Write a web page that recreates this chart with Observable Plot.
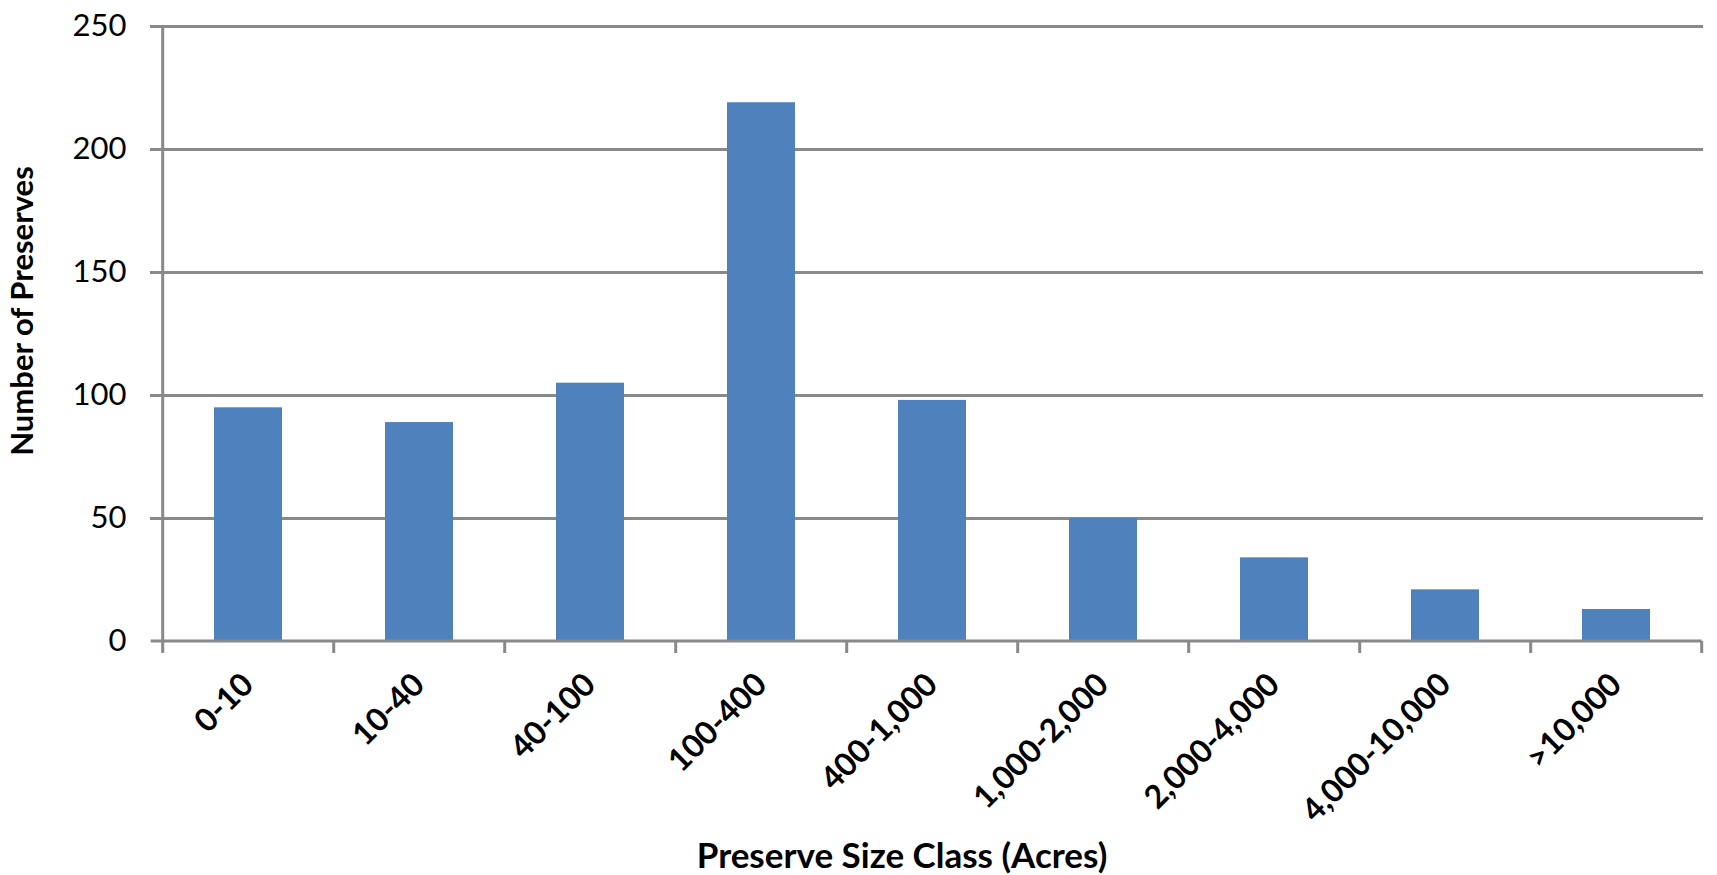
<!DOCTYPE html>
<html><head><meta charset="utf-8">
<script src="https://cdn.jsdelivr.net/npm/d3@7"></script>
<script src="https://cdn.jsdelivr.net/npm/@observablehq/plot@0.6"></script>
<style>body{margin:0;background:#fff}</style>
</head><body><div id="chart"></div>
<script>
const categories = ["0-10","10-40","40-100","100-400","400-1,000","1,000-2,000","2,000-4,000","4,000-10,000",">10,000"];
const counts = [95, 89, 105, 219, 98, 50, 34, 21, 13];
const yTicks = [0, 50, 100, 150, 200, 250];
const xTitle = "Preserve Size Class (Acres)";
const yTitle = "Number of Preserves";

const data = categories.map((c, i) => ({category: c, count: counts[i]}));
const grey = "#898989";
const barColor = "#4F81BD";

function axisLines(index, scales) {
  const x = scales.x, y = scales.y;
  const step = x(categories[1]) - x(categories[0]);
  const bounds = categories.map(c => x(c) - 0.3 * step);
  bounds.push(x(categories[categories.length - 1]) + 0.7 * step);
  const y0 = y(0), yTop = y(250);
  const g = d3.create("svg:g").attr("stroke", grey).attr("stroke-width", 3);
  g.append("line").attr("x1", bounds[0]).attr("x2", bounds[0]).attr("y1", yTop).attr("y2", y0 + 12);
  bounds.slice(1).forEach(b => {
    g.append("line").attr("x1", b).attr("x2", b).attr("y1", y0).attr("y2", y0 + 12);
  });
  g.append("line").attr("x1", bounds[0] - 12).attr("x2", bounds[bounds.length - 1]).attr("y1", y0).attr("y2", y0);
  return g.node();
}

const chart = Plot.plot({
  width: 1717,
  height: 875,
  marginLeft: 162,
  marginRight: 14,
  marginTop: 26,
  marginBottom: 234,
  x: {domain: categories, paddingInner: 0.6, paddingOuter: 0.3, axis: null},
  y: {domain: [0, 250], axis: null},
  style: {fontFamily: "Lato, 'Open Sans', sans-serif", background: "#fff", overflow: "visible"},
  marks: [
    Plot.ruleY(yTicks.filter(d => d > 0), {stroke: grey, strokeWidth: 3, insetLeft: -12}),
    Plot.barY(data, {x: "category", y: "count", fill: barColor}),
    axisLines,
    Plot.text(yTicks, {y: d => d, text: d => String(d), frameAnchor: "left", textAnchor: "end", dx: -36, fontSize: 31, fill: "#000"}),
    Plot.text(categories, {x: d => d, text: d => d, frameAnchor: "bottom", rotate: -45, textAnchor: "end", dx: 7, dy: 45, fontSize: 32, fontWeight: "bold", fill: "#000"}),
    Plot.text([yTitle], {frameAnchor: "left", rotate: -90, textAnchor: "middle", dx: -139, dy: -23, fontSize: 31, fontWeight: "bold", fill: "#000"}),
    Plot.text([xTitle], {frameAnchor: "bottom", textAnchor: "middle", lineAnchor: "top", dx: -31, dy: 202, fontSize: 35, fontWeight: "bold", fill: "#000"})
  ]
});
document.getElementById("chart").appendChild(chart);
</script>
</body></html>
